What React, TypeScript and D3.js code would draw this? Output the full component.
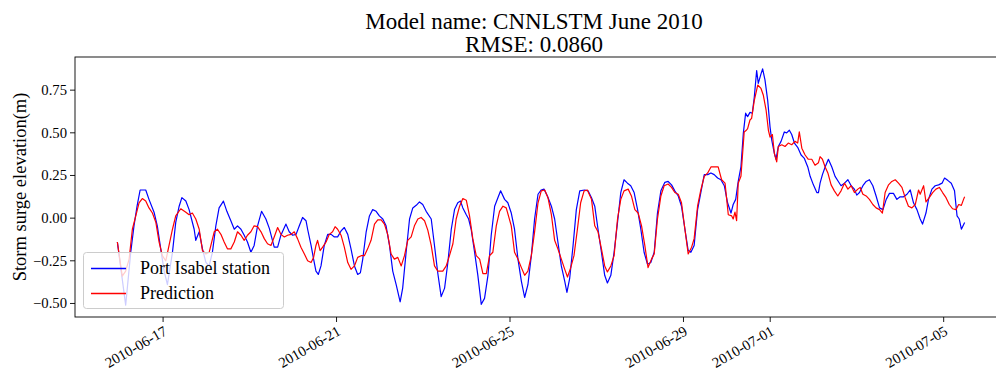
import React from "react";
import * as d3 from "d3";

// ---- data (hours since 2010-06-15 00:00 UTC, values in metres) ----
const obsHours = [22.7, 27.3, 30.1, 31.9, 33.6, 35.3, 38.4, 40.2, 43.0, 44.8, 46.7, 48.6, 50.4, 53.2, 55.0, 56.9, 58.4, 60.6, 62.4, 65.2, 66.1, 68.0, 69.8, 71.7, 73.5, 75.3, 77.2, 79.0, 81.4, 83.3, 85.5, 87.4, 89.2, 91.1, 92.9, 94.7, 96.6, 98.4, 100.3, 102.5, 104.9, 106.8, 109.5, 111.4, 113.2, 116.0, 117.8, 119.7, 121.6, 123.4, 125.2, 127.1, 128.0, 129.9, 131.3, 132.6, 133.9, 135.4, 137.2, 139.1, 141.0, 142.8, 144.6, 146.5, 148.3, 150.2, 152.0, 153.9, 155.7, 157.2, 158.5, 160.4, 162.2, 164.0, 165.9, 167.7, 169.6, 171.4, 173.3, 175.1, 177.0, 179.2, 180.6, 182.5, 184.4, 186.2, 188.1, 189.9, 191.7, 193.6, 196.4, 198.2, 200.0, 201.9, 203.8, 205.6, 207.5, 209.3, 211.1, 212.6, 213.9, 215.8, 217.1, 218.5, 220.4, 222.2, 224.1, 225.9, 227.8, 229.6, 231.5, 233.3, 234.8, 237.0, 238.8, 240.7, 242.5, 244.4, 246.3, 248.1, 249.9, 251.8, 253.6, 255.5, 257.3, 258.8, 260.7, 262.9, 264.7, 266.5, 268.4, 270.3, 271.5, 273.0, 274.9, 276.7, 278.6, 281.3, 283.2, 285.1, 286.9, 288.7, 290.6, 292.4, 293.9, 295.8, 297.6, 299.5, 301.3, 303.1, 305.0, 306.8, 308.7, 310.6, 312.4, 314.2, 316.1, 317.9, 319.8, 321.6, 323.5, 325.7, 327.5, 329.4, 331.2, 333.1, 334.9, 336.8, 338.6, 340.1, 341.9, 343.8, 345.6, 347.5, 349.4, 351.2, 353.0, 354.9, 356.7, 358.6, 360.4, 362.3, 363.5, 364.9, 366.3, 367.8, 369.1, 370.4, 371.5, 372.8, 374.1, 375.2, 376.5, 377.4, 378.9, 379.8, 381.1, 382.6, 383.9, 384.8, 386.3, 387.2, 388.5, 390.0, 391.8, 393.1, 394.6, 395.9, 397.4, 399.2, 401.1, 402.9, 404.8, 406.1, 407.9, 409.8, 410.7, 411.6, 412.9, 414.4, 416.2, 418.1, 419.9, 421.7, 423.2, 425.1, 427.0, 428.8, 430.6, 431.9, 433.4, 435.3, 437.1, 438.9, 440.8, 442.6, 444.5, 446.4, 448.2, 450.0, 452.2, 454.1, 455.9, 457.8, 459.7, 461.5, 463.3, 465.2, 467.0, 468.3, 470.2, 471.6, 473.5, 475.3, 477.2, 479.1, 480.5, 482.4, 484.2, 486.0, 487.4, 488.6, 489.8, 491.6];
const obsValues = [-0.14, -0.51, -0.2, -0.045, 0.07, 0.165, 0.165, 0.11, 0.035, -0.045, -0.18, -0.31, -0.39, -0.2, -0.025, 0.07, 0.12, 0.10, 0.05, -0.065, -0.13, -0.08, -0.18, -0.26, -0.28, -0.2, -0.045, 0.06, 0.10, 0.04, -0.015, -0.065, -0.045, -0.065, -0.10, -0.14, -0.2, -0.16, -0.045, 0.04, -0.005, -0.06, -0.17, -0.17, -0.10, -0.035, -0.08, -0.10, -0.095, -0.045, 0.004, -0.015, -0.065, -0.16, -0.24, -0.31, -0.33, -0.28, -0.16, -0.095, -0.095, -0.11, -0.11, -0.075, -0.055, -0.095, -0.18, -0.28, -0.33, -0.32, -0.24, -0.08, 0.013, 0.05, 0.04, 0.013, -0.005, -0.045, -0.16, -0.31, -0.39, -0.49, -0.41, -0.2, -0.005, 0.06, 0.075, 0.095, 0.08, 0.04, -0.005, -0.16, -0.32, -0.46, -0.41, -0.26, -0.065, 0.05, 0.09, 0.10, 0.06, 0.02, -0.005, -0.065, -0.2, -0.335, -0.505, -0.47, -0.335, -0.10, 0.07, 0.12, 0.16, 0.11, 0.09, 0.03, -0.065, -0.24, -0.37, -0.465, -0.39, -0.22, -0.005, 0.14, 0.165, 0.17, 0.13, 0.07, -0.005, -0.14, -0.28, -0.37, -0.435, -0.355, -0.16, 0.05, 0.16, 0.165, 0.16, 0.12, 0.07, -0.065, -0.2, -0.335, -0.38, -0.335, -0.2, -0.025, 0.15, 0.225, 0.205, 0.19, 0.15, 0.05, -0.065, -0.2, -0.27, -0.26, -0.2, 0.03, 0.16, 0.21, 0.215, 0.195, 0.16, 0.13, 0.07, -0.065, -0.19, -0.2, -0.16, 0.05, 0.15, 0.255, 0.255, 0.265, 0.255, 0.235, 0.225, 0.19, 0.09, 0.03, 0.08, 0.11, 0.215, 0.30, 0.495, 0.615, 0.595, 0.62, 0.615, 0.71, 0.865, 0.79, 0.845, 0.875, 0.81, 0.69, 0.535, 0.46, 0.38, 0.345, 0.42, 0.45, 0.505, 0.50, 0.515, 0.49, 0.44, 0.415, 0.37, 0.35, 0.30, 0.245, 0.195, 0.15, 0.15, 0.205, 0.255, 0.30, 0.345, 0.30, 0.245, 0.215, 0.19, 0.205, 0.225, 0.19, 0.17, 0.135, 0.15, 0.19, 0.215, 0.225, 0.19, 0.13, 0.06, 0.05, 0.11, 0.145, 0.145, 0.11, 0.125, 0.125, 0.14, 0.165, 0.09, 0.05, -0.005, -0.035, 0.03, 0.11, 0.17, 0.19, 0.195, 0.205, 0.235, 0.22, 0.205, 0.16, 0.013, -0.005, -0.065, -0.025];

const predHours = [22.7, 25.4, 27.3, 29.2, 31.0, 32.9, 34.7, 36.5, 38.4, 40.2, 42.1, 44.0, 45.8, 47.6, 49.5, 53.2, 55.0, 57.8, 60.6, 62.4, 64.2, 66.1, 68.0, 69.8, 71.7, 73.5, 76.3, 78.1, 80.0, 81.8, 83.6, 85.5, 87.4, 89.2, 91.1, 92.9, 94.7, 96.6, 98.4, 100.3, 102.2, 104.0, 105.8, 107.7, 109.5, 111.4, 113.2, 115.1, 116.9, 118.8, 120.6, 122.4, 124.3, 126.2, 128.0, 129.9, 131.3, 132.6, 133.5, 134.9, 136.3, 138.2, 140.0, 141.8, 143.2, 144.6, 146.5, 148.3, 150.2, 152.0, 153.9, 155.7, 157.6, 159.4, 161.2, 163.1, 165.0, 166.8, 168.7, 170.5, 172.3, 174.2, 176.0, 177.9, 179.8, 181.6, 183.4, 185.3, 187.1, 189.0, 190.8, 192.7, 194.5, 196.4, 198.2, 200.0, 202.8, 204.7, 206.5, 208.4, 210.2, 212.1, 213.9, 215.8, 217.6, 219.4, 221.3, 223.2, 225.0, 226.9, 228.7, 230.5, 232.4, 234.2, 236.1, 237.9, 240.7, 242.5, 244.4, 246.3, 248.1, 249.9, 251.8, 253.6, 255.5, 257.3, 259.2, 261.0, 262.9, 264.7, 266.5, 268.4, 270.3, 271.8, 273.6, 275.4, 277.3, 279.1, 281.0, 282.8, 285.1, 286.9, 288.7, 290.6, 292.4, 293.9, 295.8, 297.6, 299.5, 301.3, 303.1, 305.4, 307.2, 309.1, 310.9, 312.8, 314.6, 316.4, 318.3, 319.8, 321.6, 323.5, 325.3, 327.5, 329.4, 331.2, 333.1, 334.9, 336.8, 338.6, 340.5, 341.9, 343.8, 345.6, 347.5, 349.4, 351.2, 353.0, 355.2, 357.1, 359.0, 360.8, 362.7, 363.5, 364.5, 365.4, 366.3, 367.8, 369.6, 370.8, 371.5, 372.8, 373.7, 375.2, 377.1, 378.9, 380.2, 381.7, 383.0, 383.9, 385.2, 386.3, 387.6, 388.5, 390.4, 392.2, 394.0, 395.9, 397.7, 399.2, 400.1, 401.5, 403.3, 405.1, 407.0, 408.8, 410.7, 411.6, 412.9, 414.4, 415.9, 417.7, 419.5, 421.4, 423.2, 425.1, 427.0, 428.8, 430.6, 432.5, 433.8, 435.3, 437.1, 438.9, 440.8, 442.6, 444.5, 446.1, 447.6, 449.5, 451.3, 453.2, 455.0, 456.9, 458.7, 460.5, 462.4, 464.3, 466.1, 467.0, 468.9, 470.2, 472.0, 473.9, 475.7, 477.6, 479.4, 481.3, 483.1, 484.9, 486.8, 488.3, 489.8, 491.0, 491.6];
const predValues = [-0.14, -0.34, -0.31, -0.24, -0.065, 0.013, 0.09, 0.115, 0.10, 0.06, 0.03, -0.025, -0.14, -0.22, -0.25, -0.065, 0.013, 0.055, 0.035, 0.02, 0.03, -0.005, -0.065, -0.19, -0.21, -0.2, -0.08, -0.065, -0.095, -0.14, -0.18, -0.18, -0.14, -0.08, -0.10, -0.13, -0.10, -0.08, -0.045, -0.05, -0.08, -0.12, -0.15, -0.16, -0.11, -0.055, -0.095, -0.11, -0.10, -0.095, -0.08, -0.12, -0.17, -0.21, -0.25, -0.26, -0.23, -0.16, -0.13, -0.19, -0.17, -0.14, -0.095, -0.08, -0.05, -0.065, -0.10, -0.17, -0.26, -0.30, -0.28, -0.23, -0.22, -0.22, -0.18, -0.13, -0.035, -0.01, -0.01, -0.035, -0.095, -0.21, -0.24, -0.23, -0.28, -0.22, -0.13, -0.11, -0.045, -0.005, 0.004, -0.015, -0.07, -0.16, -0.28, -0.31, -0.31, -0.28, -0.22, -0.15, -0.005, 0.07, 0.115, 0.105, 0.013, -0.12, -0.22, -0.24, -0.325, -0.325, -0.22, -0.2, -0.045, 0.04, 0.07, 0.06, -0.045, -0.2, -0.24, -0.29, -0.335, -0.31, -0.22, -0.08, 0.09, 0.16, 0.165, 0.12, 0.02, -0.13, -0.18, -0.24, -0.30, -0.345, -0.29, -0.22, -0.065, 0.09, 0.16, 0.165, 0.11, -0.045, -0.08, -0.18, -0.28, -0.315, -0.28, -0.22, -0.005, 0.11, 0.16, 0.17, 0.13, 0.05, 0.03, -0.045, -0.16, -0.29, -0.24, -0.21, -0.005, 0.13, 0.19, 0.20, 0.18, 0.15, 0.14, 0.09, -0.065, -0.21, -0.17, -0.12, 0.07, 0.165, 0.245, 0.265, 0.30, 0.30, 0.30, 0.225, 0.205, 0.02, 0.013, -0.005, 0.035, -0.015, 0.205, 0.245, 0.505, 0.515, 0.525, 0.575, 0.585, 0.69, 0.78, 0.76, 0.72, 0.635, 0.515, 0.475, 0.49, 0.38, 0.33, 0.42, 0.43, 0.42, 0.44, 0.43, 0.45, 0.44, 0.505, 0.41, 0.37, 0.345, 0.345, 0.31, 0.325, 0.36, 0.345, 0.30, 0.265, 0.195, 0.16, 0.13, 0.16, 0.205, 0.17, 0.19, 0.15, 0.17, 0.18, 0.14, 0.13, 0.11, 0.08, 0.06, 0.05, 0.03, 0.15, 0.195, 0.215, 0.225, 0.205, 0.18, 0.12, 0.07, 0.06, 0.08, 0.165, 0.14, 0.19, 0.095, 0.12, 0.15, 0.17, 0.18, 0.15, 0.12, 0.08, 0.055, 0.05, 0.08, 0.075, 0.11, 0.125];

const xTickLabels = ["2010-06-17", "2010-06-21", "2010-06-25", "2010-06-29", "2010-07-01", "2010-07-05"];
const yTickValues = [-0.5, -0.25, 0, 0.25, 0.5, 0.75];
const seriesNames = ["Port Isabel station", "Prediction"];
const seriesColors = ["#0000ff", "#ff0000"];
const titleLines = ["Model name: CNNLSTM June 2010", "RMSE: 0.0860"];
const yLabel = "Storm surge elevation(m)";

const W = 996;
const H = 374;
const FONT = "'Liberation Serif', 'Times New Roman', serif";

const START = Date.UTC(2010, 5, 15, 0, 0, 0);
const toDate = (h: number) => new Date(START + h * 3600 * 1000);

export default function App() {
  const left = 75, right = 1007, top = 57, bottom = 317;

  const obs = obsHours.map((h, i) => ({ t: toDate(h), v: obsValues[i] })).filter((d) => d.v !== undefined);
  const pred = predHours.map((h, i) => ({ t: toDate(h), v: predValues[i] })).filter((d) => d.v !== undefined);

  const allH = obsHours.concat(predHours);
  const hExt = d3.extent(allH) as [number, number];
  const hPad = (hExt[1] - hExt[0]) * 0.05;
  const x = d3.scaleUtc().domain([toDate(hExt[0] - hPad), toDate(hExt[1] + hPad)]).range([left, right]);

  const allV = obsValues.concat(predValues);
  const vExt = d3.extent(allV) as [number, number];
  const vPad = (vExt[1] - vExt[0]) * 0.05;
  const y = d3.scaleLinear().domain([vExt[0] - vPad, vExt[1] + vPad]).range([bottom, top]);

  const line = d3.line<{ t: Date; v: number }>().x((d) => x(d.t)).y((d) => y(d.v));
  const parse = d3.utcParse("%Y-%m-%d");
  const fmtY = d3.format(".2f");

  const tickLen = 5;
  const tickFs = 14.7;

  return (
    <svg width={W} height={H} style={{ position: "absolute", left: 0, top: 0, background: "#fff" }} fontFamily={FONT}>
      <rect x={0} y={0} width={W} height={H} fill="#fff" />
      {titleLines.map((t, i) => (
        <text key={i} x={(left + right) / 2 - 7} y={29 + i * 23} textAnchor="middle" fontSize={23} fill="#000">
          {t}
        </text>
      ))}
      <defs>
        <clipPath id="plotclip">
          <rect x={left} y={top} width={right - left} height={bottom - top} />
        </clipPath>
      </defs>
      <g clipPath="url(#plotclip)">
        <path d={line(obs) || ""} fill="none" stroke={seriesColors[0]} strokeWidth={1.2} strokeLinejoin="round" />
        <path d={line(pred) || ""} fill="none" stroke={seriesColors[1]} strokeWidth={1.2} strokeLinejoin="round" />
      </g>
      <rect x={left} y={top} width={right - left} height={bottom - top} fill="none" stroke="#000" strokeWidth={0.9} />
      {yTickValues.map((v) => (
        <g key={v}>
          <line x1={left - tickLen} x2={left} y1={y(v)} y2={y(v)} stroke="#000" strokeWidth={0.9} />
          <text x={left - tickLen - 3} y={y(v)} dy="0.33em" textAnchor="end" fontSize={tickFs} fill="#000">
            {fmtY(v)}
          </text>
        </g>
      ))}
      {xTickLabels.map((s) => {
        const px = x(parse(s) as Date);
        return (
          <g key={s}>
            <line x1={px} x2={px} y1={bottom} y2={bottom + tickLen} stroke="#000" strokeWidth={0.9} />
            <text
              transform={`translate(${px + 5},${bottom + tickLen + 12}) rotate(-30)`}
              textAnchor="end"
              fontSize={tickFs}
              fill="#000"
            >
              {s}
            </text>
          </g>
        );
      })}
      <text transform={`translate(26,${(top + bottom) / 2}) rotate(-90)`} textAnchor="middle" fontSize={18.5} fill="#000">
        {yLabel}
      </text>
      <g>
        <rect x={83.5} y={252.5} width={200} height={56} rx={3} fill="#fff" fillOpacity={0.8} stroke="#cccccc" strokeWidth={1} />
        {seriesNames.map((n, i) => (
          <g key={n}>
            <line x1={91} x2={126} y1={268.5 + i * 25} y2={268.5 + i * 25} stroke={seriesColors[i]} strokeWidth={1.3} />
            <text x={140} y={268.5 + i * 25} dy="0.33em" fontSize={18} fill="#000">
              {n}
            </text>
          </g>
        ))}
      </g>
    </svg>
  );
}
